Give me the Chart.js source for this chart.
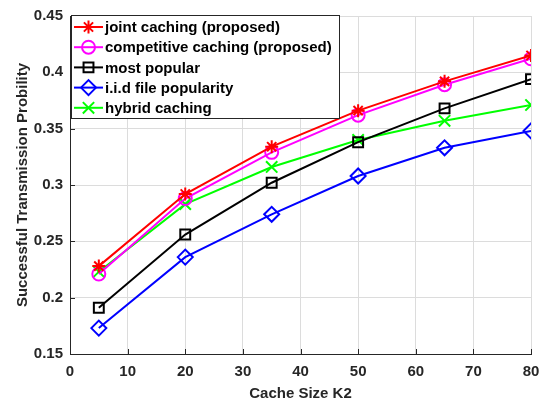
<!DOCTYPE html>
<html>
<head>
<meta charset="utf-8">
<script src="https://cdn.jsdelivr.net/npm/chart.js@4.4.1/dist/chart.umd.min.js"></script>
<style>
  html, body { margin: 0; padding: 0; background: #fff; }
  #wrap { width: 543px; height: 403px; }
</style>
</head>
<body>
<div id="wrap"><canvas id="cacheChart" width="543" height="403"></canvas></div>
<script>
// values
const cacheSizes = [5, 20, 35, 50, 65, 80];
const jointCaching = [0.228, 0.292, 0.334, 0.366, 0.392, 0.415];
const competitiveCaching = [0.221, 0.288, 0.329, 0.362, 0.389, 0.412];
const mostPopular = [0.191, 0.256, 0.302, 0.338, 0.368, 0.394];
const iidPopularity = [0.173, 0.236, 0.274, 0.308, 0.333, 0.348];
const hybridCaching = [0.223, 0.283, 0.316, 0.340, 0.357, 0.371];

const seriesNames = ['joint caching (proposed)', 'competitive caching (proposed)', 'most popular', 'i.i.d file popularity', 'hybrid caching'];
const xTicks = [0, 10, 20, 30, 40, 50, 60, 70, 80];
const yTicks = [0.15, 0.2, 0.25, 0.3, 0.35, 0.4, 0.45];

const FONT = '"Liberation Sans", Arial, sans-serif';
const AXIS = '#262626';

function toPoints(vals) {
  return vals.map((v, i) => ({ x: cacheSizes[i], y: v }));
}

function makeSet(label, vals, color, style, radius) {
  return {
    label: label,
    data: toPoints(vals),
    borderColor: color,
    backgroundColor: 'rgba(0,0,0,0)',
    borderWidth: 2,
    pointStyle: style,
    pointRadius: radius,
    pointBorderWidth: 2,
    pointBorderColor: color,
    pointBackgroundColor: 'rgba(0,0,0,0)',
    tension: 0
  };
}

// inner ticks on left/bottom axes + legend box
const boxAndLegend = {
  id: 'boxAndLegend',
  afterDraw(chart) {
    const ctx = chart.ctx;
    const a = chart.chartArea;
    const xs = chart.scales.x, ys = chart.scales.y;
    ctx.save();
    ctx.strokeStyle = AXIS;
    ctx.lineWidth = 1;
    ctx.beginPath();
    xTicks.forEach(t => {
      const px = Math.round(xs.getPixelForValue(t)) + 0.5;
      ctx.moveTo(px, a.bottom); ctx.lineTo(px, a.bottom - 5);
    });
    yTicks.forEach(t => {
      const py = Math.round(ys.getPixelForValue(t)) + 0.5;
      ctx.moveTo(a.left, py); ctx.lineTo(a.left + 5, py);
    });
    ctx.stroke();

    // legend
    const lx = 71, ly = 15, lw = 268, lh = 103;
    ctx.fillStyle = '#fff';
    ctx.fillRect(lx, ly, lw, lh);
    ctx.strokeStyle = AXIS;
    ctx.strokeRect(lx + 0.5, ly + 0.5, lw, lh);
    ctx.font = 'bold 15px ' + FONT;
    ctx.textBaseline = 'middle';
    chart.data.datasets.forEach((ds, i) => {
      const y = 27 + i * 20.2;
      ctx.strokeStyle = ds.borderColor;
      ctx.lineWidth = 2;
      ctx.beginPath();
      ctx.moveTo(74, y); ctx.lineTo(103, y);
      ctx.stroke();
      ctx.fillStyle = 'rgba(0,0,0,0)';
      Chart.helpers.drawPoint(ctx, {
        pointStyle: ds.pointStyle,
        radius: ds.pointRadius,
        rotation: 0,
        borderWidth: 2
      }, 88.5, y);
      ctx.fillStyle = '#000';
      ctx.textAlign = 'left';
      ctx.fillText(ds.label, 105, y + 1);
    });
    ctx.restore();
  }
};

const chart = new Chart(document.getElementById('cacheChart').getContext('2d'), {
  type: 'line',
  data: {
    datasets: [
      makeSet(seriesNames[0], jointCaching, '#ff0000', 'star', 6.5),
      makeSet(seriesNames[1], competitiveCaching, '#ff00ff', 'circle', 6.5),
      makeSet(seriesNames[2], mostPopular, '#000000', 'rect', 7),
      makeSet(seriesNames[3], iidPopularity, '#0000ff', 'rectRot', 7.5),
      makeSet(seriesNames[4], hybridCaching, '#00ff00', 'crossRot', 8)
    ]
  },
  options: {
    responsive: false,
    animation: false,
    layout: { padding: { top: 14, right: 12, left: 0, bottom: 0 } },
    plugins: {
      legend: { display: false },
      tooltip: { enabled: false }
    },
    scales: {
      x: {
        type: 'linear',
        min: 0, max: 80,
        afterBuildTicks: s => { s.ticks = xTicks.map(v => ({ value: v })); },
        afterFit: s => { s.height = 49; s.paddingRight = 0; s.paddingLeft = 0; },
        grid: { color: '#dcdcdc', drawTicks: false },
        border: { color: AXIS },
        ticks: { color: AXIS, font: { family: FONT, size: 15, weight: 'bold' }, padding: 9, maxRotation: 0 },
        title: { display: true, text: 'Cache Size K2', color: AXIS, font: { family: FONT, size: 15, weight: 'bold' }, padding: { top: 0, bottom: 0 } }
      },
      y: {
        min: 0.15, max: 0.45,
        afterBuildTicks: s => { s.ticks = yTicks.map(v => ({ value: v })); },
        afterFit: s => { s.width = 70; },
        grid: { color: '#dcdcdc', drawTicks: false },
        border: { color: AXIS },
        ticks: {
          color: AXIS,
          font: { family: FONT, size: 15, weight: 'bold' },
          padding: 7,
          callback: v => String(parseFloat(v.toFixed(2)))
        },
        title: { display: true, text: 'Successful Transmission Probility', color: AXIS, font: { family: FONT, size: 15, weight: 'bold' }, padding: { top: 14, bottom: 0 } }
      }
    }
  },
  plugins: [boxAndLegend]
});
</script>
</body>
</html>
